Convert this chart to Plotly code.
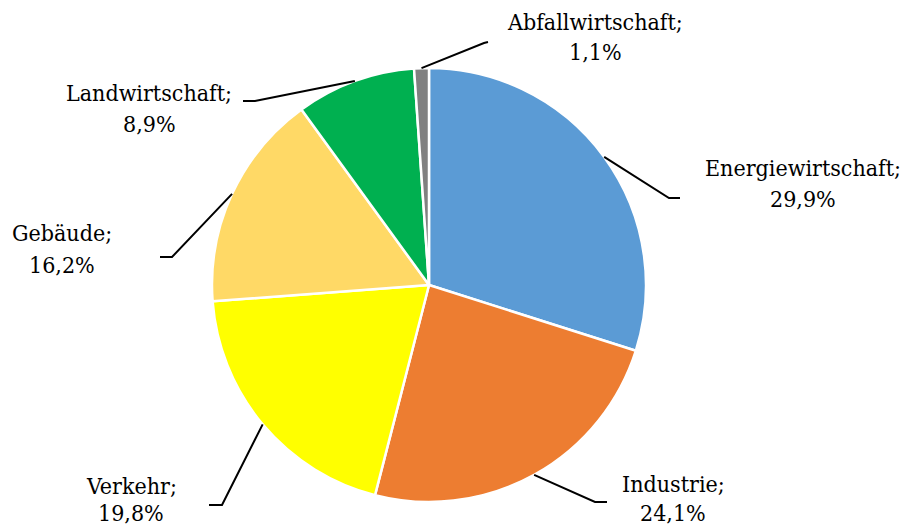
import math
import plotly.graph_objects as go

# Emission shares by sector (percent)
sectors = ["Energiewirtschaft", "Industrie", "Verkehr", "Gebäude", "Landwirtschaft", "Abfallwirtschaft"]
shares = [29.9, 24.1, 19.8, 16.2, 8.9, 1.1]
colors = ["#5B9BD5", "#ED7D31", "#FFFF00", "#FFD966", "#00B050", "#808080"]

W, H = 904, 528
CX, CY, R = 429, 285, 217  # pie centre and radius in pixels

# Label layout (pixels): text centre x, first/second line y, leader elbow and end
label_x = [803, 673, 131, 62, 149, 595]
label_y1 = [168, 484, 486, 233, 93, 22]
label_y2 = [199, 513, 513, 265, 124, 52]
elbows = [(669, 198), (595, 502), (222, 505), (172, 257), (255, 101), (484, 43)]
ends = [(680, 198), (607, 502), (209, 505), (160, 257), (243, 101), (488, 42)]


def px(x):
    return x / W


def py(y):
    return 1 - y / H


fig = go.Figure(
    go.Pie(
        labels=sectors,
        values=shares,
        sort=False,
        direction="clockwise",
        rotation=0,
        marker=dict(colors=colors, line=dict(color="white", width=2.5)),
        textinfo="none",
        hoverinfo="label+percent",
        showlegend=False,
        domain=dict(x=[px(CX - R), px(CX + R)], y=[py(CY + R), py(CY - R)]),
    )
)

font = dict(family="DejaVu Serif Condensed, DejaVu Serif", size=23, color="black")
annotations = []
shapes = []
total = sum(shares)
cum = 0.0
for i, (name, val) in enumerate(zip(sectors, shares)):
    mid = (cum + val / 2) / total
    cum += val
    ang = math.radians(90 - mid * 360)
    sx = CX + R * math.cos(ang)
    sy = CY - R * math.sin(ang)
    ex, ey = elbows[i]
    tx, ty = ends[i]
    shapes.append(
        dict(
            type="path",
            xref="paper",
            yref="paper",
            path=f"M {px(sx)},{py(sy)} L {px(ex)},{py(ey)} L {px(tx)},{py(ty)}",
            line=dict(color="black", width=2),
        )
    )
    pct = f"{val:.1f}%".replace(".", ",")
    for text, y in ((f"{name};", label_y1[i]), (pct, label_y2[i])):
        annotations.append(
            dict(
                x=px(label_x[i]),
                y=py(y),
                xref="paper",
                yref="paper",
                text=text,
                showarrow=False,
                xanchor="center",
                yanchor="middle",
                font=font,
            )
        )

fig.update_layout(
    width=W,
    height=H,
    margin=dict(l=0, r=0, t=0, b=0),
    paper_bgcolor="white",
    plot_bgcolor="white",
    font=font,
    shapes=shapes,
    annotations=annotations,
)

fig.write_html("out.html")
